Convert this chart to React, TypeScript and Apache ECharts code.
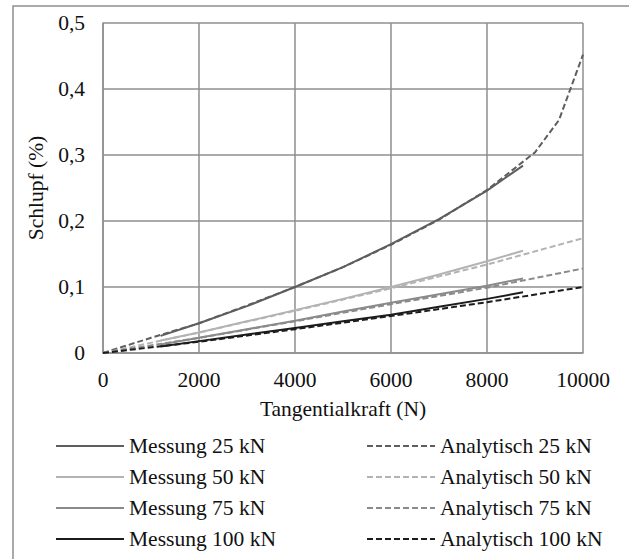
import React, { useEffect, useRef } from "react";
import * as echarts from "echarts";

const forceMess = [1200, 2000, 3000, 4000, 5000, 6000, 7000, 8000, 8750];
const mess25 = [0.026, 0.045, 0.071, 0.1, 0.13, 0.165, 0.203, 0.246, 0.284];
const mess50 = [0.019, 0.031, 0.048, 0.065, 0.082, 0.1, 0.119, 0.139, 0.155];
const mess75 = [0.013, 0.023, 0.036, 0.049, 0.063, 0.076, 0.089, 0.102, 0.113];
const mess100 = [0.01, 0.018, 0.028, 0.038, 0.048, 0.058, 0.07, 0.082, 0.092];

const forceAna25 = [0, 1000, 2000, 3000, 4000, 5000, 6000, 7000, 8000, 9000, 9500, 10000];
const ana25 = [0, 0.023, 0.045, 0.072, 0.1, 0.13, 0.164, 0.202, 0.247, 0.304, 0.353, 0.452];
const forceAna = [0, 2000, 4000, 6000, 8000, 10000];
const ana50 = [0, 0.031, 0.064, 0.098, 0.134, 0.174];
const ana75 = [0, 0.023, 0.048, 0.074, 0.099, 0.128];
const ana100 = [0, 0.017, 0.036, 0.056, 0.077, 0.1];

const xTicks = [0, 2000, 4000, 6000, 8000, 10000];
const yTicks = [0, 0.1, 0.2, 0.3, 0.4, 0.5];

const colors = { k25: "#5e5e5e", k50: "#b3b3b3", k75: "#8a8a8a", k100: "#1c1c1c" };

const zip = (xs: number[], ys: number[]) => xs.map((x, i) => [x, ys[i]]);

export default function App() {
  const ref = useRef<HTMLDivElement>(null);
  useEffect(() => {
    if (!ref.current) return;
    const chart = echarts.init(ref.current, null, { renderer: "svg" });
    const font = "Liberation Serif";
    const fs = 21.5;
    const dash = [6, 3];
    const txt = { fontFamily: font, fontSize: fs, color: "#111" };
    const mk = (name: string, xs: number[], ys: number[], color: string, dashed: boolean) => ({
      name,
      type: "line",
      data: zip(xs, ys),
      symbol: "none",
      showSymbol: false,
      lineStyle: { color, width: 2, type: dashed ? dash : "solid" },
      itemStyle: { color },
    });
    const legendCommon = {
      orient: "vertical",
      padding: 0,
      itemWidth: 68,
      itemHeight: 14,
      itemGap: 9,
      itemStyle: { opacity: 0 },
      textStyle: { ...txt, lineHeight: 21 },
      selectedMode: false,
      top: 435,
    };
    chart.setOption({
      animation: false,
      backgroundColor: "#fff",
      textStyle: { fontFamily: font },
      graphic: [
        {
          type: "rect",
          shape: { x: 13, y: 6, width: 800, height: 800 },
          style: { fill: "none", stroke: "#8f8f8f", lineWidth: 1.5 },
          silent: true,
        },
      ],
      grid: { left: 103, right: 46, top: 23, bottom: 206 },
      xAxis: {
        type: "value",
        min: xTicks[0],
        max: xTicks[xTicks.length - 1],
        interval: 2000,
        name: "Tangentialkraft (N)",
        nameLocation: "middle",
        nameGap: 45,
        nameTextStyle: { ...txt },
        axisLine: { show: true, lineStyle: { color: "#8f8f8f", width: 1.5 } },
        axisTick: { show: false },
        axisLabel: {
          ...txt,
          margin: 16,
          formatter: (v: number) => String(v),
        },
        splitLine: { show: true, lineStyle: { color: "#8f8f8f", width: 1.5 } },
      },
      yAxis: {
        type: "value",
        min: yTicks[0],
        max: yTicks[yTicks.length - 1],
        interval: 0.1,
        name: "Schlupf (%)",
        nameLocation: "middle",
        nameRotate: 90,
        nameGap: 52,
        nameTextStyle: { ...txt },
        axisLine: { show: true, lineStyle: { color: "#8f8f8f", width: 1.5 } },
        axisTick: { show: false },
        axisLabel: {
          ...txt,
          margin: 18,
          formatter: (v: number) => (v === 0 ? "0" : v.toFixed(1).replace(".", ",")),
        },
        splitLine: { show: true, lineStyle: { color: "#8f8f8f", width: 1.5 } },
      },
      legend: [
        {
          ...legendCommon,
          left: 55,
          data: ["Messung 25 kN", "Messung 50 kN", "Messung 75 kN", "Messung 100 kN"],
        },
        {
          ...legendCommon,
          left: 366,
          data: ["Analytisch 25 kN", "Analytisch 50 kN", "Analytisch 75 kN", "Analytisch 100 kN"],
        },
      ],
      series: [
        mk("Messung 25 kN", forceMess, mess25, colors.k25, false),
        mk("Analytisch 25 kN", forceAna25, ana25, colors.k25, true),
        mk("Messung 50 kN", forceMess, mess50, colors.k50, false),
        mk("Analytisch 50 kN", forceAna, ana50, colors.k50, true),
        mk("Messung 75 kN", forceMess, mess75, colors.k75, false),
        mk("Analytisch 75 kN", forceAna, ana75, colors.k75, true),
        mk("Messung 100 kN", forceMess, mess100, colors.k100, false),
        mk("Analytisch 100 kN", forceAna, ana100, colors.k100, true),
      ],
    });
    return () => chart.dispose();
  }, []);
  return (
    <div
      ref={ref}
      style={{ position: "absolute", left: 0, top: 0, width: 629, height: 559 }}
    />
  );
}
